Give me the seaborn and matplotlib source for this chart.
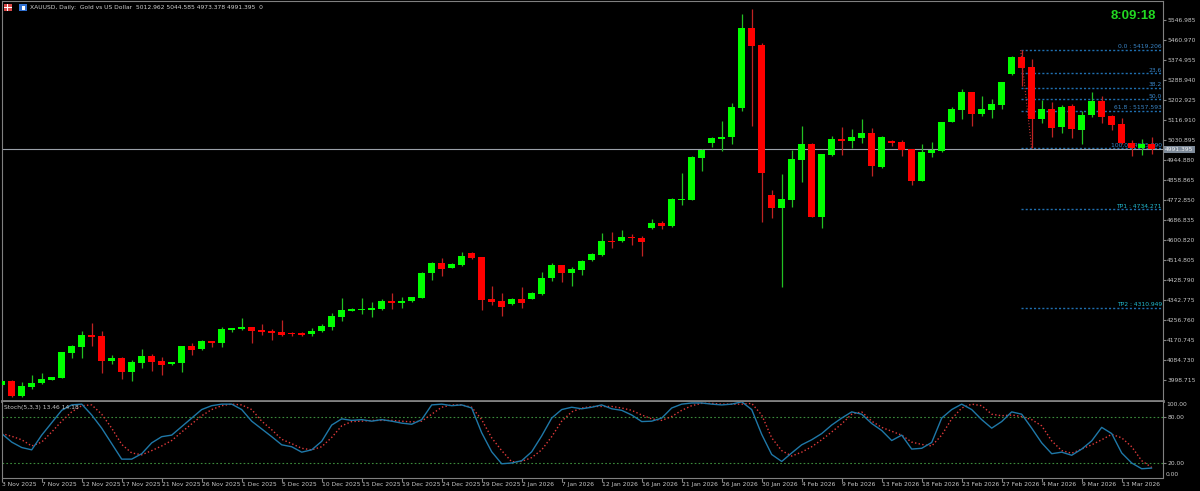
import numpy as np
import pandas as pd
import seaborn as sns
import matplotlib
matplotlib.use('Agg')
import matplotlib.pyplot as plt
from matplotlib.patches import Rectangle

# XAUUSD daily bars, 3 Nov 2025 .. 17 Mar 2026
opens = [3978.8, 3996.0, 3931.5, 3971.5, 3986.1, 4001.6, 4010.2, 4117.7, 4142.2, 4195.1,
         4189.5, 4082.0, 4094.9, 4036.0, 4074.7, 4103.5, 4082.0, 4070.4, 4072.1, 4146.5,
         4132.3, 4168.0, 4160.7, 4216.6, 4219.6, 4228.2, 4215.3, 4211.0, 4206.7, 4203.7,
         4202.4, 4198.1, 4211.0, 4229.5, 4272.5, 4298.3, 4301.3, 4302.6, 4305.6, 4340.0,
         4332.7, 4338.7, 4354.2, 4459.1, 4503.4, 4483.2, 4493.5, 4546.4, 4529.2, 4348.6,
         4340.0, 4328.4, 4348.6, 4349.9, 4370.1, 4437.6, 4494.8, 4461.7, 4473.3, 4516.3,
         4536.5, 4599.3, 4598.0, 4615.2, 4612.2, 4652.6, 4674.1, 4662.5, 4774.3, 4775.6,
         4956.2, 5018.1, 5037.9, 5043.9, 5171.2, 5513.9, 5440.8, 4795.8, 4741.2, 4774.3,
         4946.3, 5015.1, 4701.2, 4966.5, 5036.6, 5029.3, 5040.9, 5062.4, 4917.5, 5028.0,
         5022.4, 4992.3, 4857.3, 4976.4, 4986.3, 5109.7, 5162.6, 5237.4, 5145.4, 5162.6,
         5182.8, 5316.1, 5387.9, 5344.9, 5122.6, 5165.6, 5086.9, 5178.5, 5075.3, 5138.5,
         5200.0, 5135.5, 5101.1, 5018.1, 4996.6, 5012.962]
highs = [4000.3, 4000.3, 3991.7, 4021.8, 4029.1, 4013.2, 4122.0, 4150.8, 4211.0, 4246.7,
         4211.0, 4106.5, 4099.2, 4085.0, 4133.6, 4112.1, 4099.2, 4077.7, 4147.8, 4160.7,
         4173.6, 4168.0, 4228.2, 4223.9, 4267.0, 4228.2, 4242.4, 4219.6, 4258.3, 4206.7,
         4206.7, 4223.9, 4241.1, 4287.1, 4354.2, 4308.6, 4351.6, 4335.7, 4347.3, 4374.4,
         4355.9, 4357.2, 4463.4, 4509.0, 4524.9, 4502.1, 4550.7, 4549.4, 4529.2, 4404.5,
         4374.4, 4351.6, 4400.2, 4377.4, 4463.4, 4503.4, 4494.8, 4486.2, 4516.3, 4545.1,
         4631.1, 4636.7, 4645.3, 4626.8, 4619.5, 4691.3, 4684.0, 4781.6, 4890.4, 4962.2,
         4993.6, 5045.2, 5114.0, 5192.7, 5574.1, 5595.6, 5449.4, 4817.3, 4886.1, 4990.6,
         5093.8, 5018.1, 4973.4, 5049.5, 5088.2, 5079.6, 5122.6, 5083.9, 5049.5, 5032.3,
         5031.0, 4992.3, 5015.1, 5023.7, 5111.0, 5172.9, 5251.6, 5237.4, 5221.5, 5208.6,
         5283.0, 5394.8, 5419.2, 5379.3, 5204.3, 5195.7, 5181.5, 5185.8, 5158.3, 5237.4,
         5221.5, 5139.8, 5125.6, 5033.6, 5037.9, 5044.585]
lows = [3970.2, 3928.5, 3927.2, 3962.9, 3983.1, 4000.3, 4008.9, 4096.2, 4096.2, 4147.8,
        4031.7, 4070.4, 4005.9, 3997.3, 4053.2, 4040.3, 4023.1, 4063.5, 4036.0, 4109.1,
        4130.6, 4143.5, 4143.5, 4205.4, 4214.0, 4160.7, 4195.1, 4173.6, 4190.8, 4190.8,
        4189.5, 4189.5, 4206.7, 4215.3, 4255.3, 4297.0, 4284.1, 4271.2, 4301.3, 4305.6,
        4308.6, 4337.0, 4352.9, 4429.0, 4447.5, 4481.9, 4490.5, 4520.6, 4301.3, 4322.8,
        4275.5, 4324.1, 4309.9, 4348.6, 4365.8, 4426.0, 4421.7, 4404.5, 4450.5, 4513.3,
        4533.5, 4569.2, 4595.0, 4580.8, 4533.5, 4650.9, 4650.9, 4659.5, 4754.1, 4773.0,
        4897.7, 5003.5, 4986.3, 5015.1, 5155.7, 5092.5, 4681.0, 4698.2, 4401.5, 4745.5,
        4853.0, 4701.2, 4652.6, 4963.5, 4967.8, 4999.2, 5018.1, 4877.5, 4911.9, 5007.8,
        4963.5, 4838.8, 4856.0, 4959.2, 4982.0, 5108.4, 5121.3, 5093.8, 5135.5, 5128.2,
        5166.9, 5311.8, 5264.5, 4995.9, 5106.7, 5046.5, 5061.1, 5042.2, 5015.1, 5129.9,
        5105.4, 5075.3, 5016.4, 4964.8, 4969.1, 4973.378]
closes = [3996.0, 3932.8, 3974.5, 3988.7, 4003.3, 4011.9, 4120.7, 4145.2, 4193.8, 4186.5,
          4082.0, 4096.2, 4036.0, 4077.7, 4103.5, 4079.0, 4066.1, 4076.4, 4145.2, 4130.6,
          4166.7, 4160.7, 4219.6, 4223.9, 4228.2, 4212.3, 4208.0, 4203.7, 4195.1, 4199.4,
          4195.1, 4211.0, 4233.8, 4276.8, 4301.3, 4304.3, 4305.6, 4309.9, 4341.3, 4331.4,
          4341.3, 4357.2, 4461.7, 4504.7, 4477.6, 4497.8, 4534.8, 4526.2, 4344.3, 4337.0,
          4314.2, 4348.6, 4330.1, 4374.4, 4440.2, 4494.8, 4461.7, 4476.3, 4510.7, 4540.8,
          4599.3, 4595.0, 4615.2, 4610.9, 4595.0, 4674.1, 4663.8, 4777.3, 4778.6, 4959.2,
          4990.6, 5040.9, 5045.2, 5174.2, 5513.9, 5437.8, 4890.4, 4741.2, 4777.3, 4949.3,
          5013.8, 4701.2, 4970.8, 5037.9, 5028.0, 5043.9, 5061.1, 4919.2, 5043.1, 5019.4,
          4990.6, 4857.3, 4979.4, 4990.6, 5108.4, 5165.6, 5237.4, 5145.4, 5164.3, 5187.1,
          5279.5, 5390.5, 5343.2, 5122.6, 5165.6, 5085.2, 5172.9, 5078.3, 5139.8, 5200.0,
          5131.2, 5096.8, 5020.7, 4999.2, 5013.8, 4991.395]

# Stochastic(5,3,3) main and signal lines
stoch_k = [58, 47, 40, 37, 56, 72, 88, 95, 96, 82,
           65, 45, 25, 25, 32, 46, 54, 56, 67, 78,
           89, 94, 96, 96, 89, 74, 64, 54, 43.5, 41,
           34, 37, 48, 69, 77, 75, 76, 74, 76, 74,
           71.5, 70, 76, 95, 96, 94, 95, 91, 59, 34.5,
           19, 20, 23, 34.5, 55, 78, 89, 92, 90, 92,
           95, 90, 88, 82, 73.5, 74, 78, 91, 96, 97.5,
           97.5, 96, 95, 96, 99, 89, 57, 31, 22, 33,
           43.5, 50, 58, 69, 78, 86, 83, 71, 62, 49,
           56, 38, 39, 46.5, 78, 89, 96, 89, 76, 65,
           73.5, 86, 83, 65, 46, 32, 34, 30, 38, 48.6,
           66, 58, 33, 20, 12.6, 13.46]
stoch_d = [58, 54.5, 50, 42, 47, 60, 74, 86, 94, 95,
           83, 65, 44, 33, 30.6, 36, 42, 49, 60, 70.5,
           81, 89, 94, 96, 95, 89, 74, 63, 50.6, 45,
           39, 37, 41, 53, 68, 73.5, 74, 75, 75, 75,
           74, 73, 74, 83, 92, 95, 95, 92, 76, 52.5,
           36, 21.6, 22, 27, 37, 54, 74, 86, 91, 93,
           93, 93, 91, 88, 82, 77, 75, 80, 88, 94,
           97, 97, 96, 96, 96, 97, 82, 52.5, 36, 29,
           34, 41, 50, 60, 70.5, 83, 86, 74, 66, 61,
           56, 47, 44, 42, 56, 77, 91, 96, 94, 83,
           81, 82, 80, 76, 68, 48.6, 36, 32.6, 38, 43.5,
           50, 57, 52.5, 41, 23, 14.18]

date_labels = ["3 Nov 2025", "7 Nov 2025", "12 Nov 2025", "17 Nov 2025", "21 Nov 2025",
               "26 Nov 2025", "1 Dec 2025", "5 Dec 2025", "10 Dec 2025", "15 Dec 2025",
               "19 Dec 2025", "24 Dec 2025", "29 Dec 2025", "2 Jan 2026", "7 Jan 2026",
               "12 Jan 2026", "16 Jan 2026", "21 Jan 2026", "26 Jan 2026", "30 Jan 2026",
               "4 Feb 2026", "9 Feb 2026", "13 Feb 2026", "18 Feb 2026", "23 Feb 2026",
               "27 Feb 2026", "4 Mar 2026", "9 Mar 2026", "13 Mar 2026"]
price_ticks = [3998.715, 4084.730, 4170.745, 4256.760, 4342.775, 4428.790, 4514.805,
               4600.820, 4686.835, 4772.850, 4858.865, 4944.880, 5030.895, 5116.910,
               5202.925, 5288.940, 5374.955, 5460.970, 5546.985]

# Fibonacci object drawn from bar 102 high to bar 103 low
fib_prices = [5419.206, 5319.3, 5257.5, 5207.55, 5157.593, 4995.890]
fib_labels = ["0.0 : 5419.206", "23.6", "38.2", "50.0", "61.8 : 5157.593", "100.0 : 4995.890"]
tp_prices = [4734.271, 4310.949]
tp_labels = ["TP1 : 4734.271", "TP2 : 4310.949"]
bid = 4991.395

sns.set_theme(style='dark', rc={'axes.facecolor': 'black', 'figure.facecolor': 'black',
                                'axes.edgecolor': '#808080', 'axes.grid': False})
plt.rcParams['font.family'] = ['DejaVu Sans']

W, H = 1200, 491
LBL = '#c8c8c8'
FS = 4.3


def fx(px):
    return px / W


def fy(py):
    return 1 - py / H


df = pd.DataFrame({'open': opens, 'high': highs, 'low': lows, 'close': closes})
df['bar'] = np.arange(len(df))
df['bull'] = df['close'] > df['open']

fig = plt.figure(figsize=(12, 4.91), dpi=100, facecolor='black')
ax = fig.add_axes([fx(1.5), fy(401), fx(1163) - fx(1.5), fy(1) - fy(401)])
ax2 = fig.add_axes([fx(1.5), fy(477.5), fx(1163) - fx(1.5), fy(401.5) - fy(477.5)], sharex=ax)

x0, x1 = -0.02, 116.13

# fib / TP levels (under the candles)
for p, lab in zip(fib_prices, fib_labels):
    ax.hlines(p, 101.9, x1, colors='#1f6fb0', linestyles=(0, (1.5, 1.5)), lw=1, zorder=1)
    ax.text(x1 - 0.1, p + 3, lab, ha='right', va='bottom', fontsize=FS, color='#3a86c8', zorder=1)
for p, lab in zip(tp_prices, tp_labels):
    ax.hlines(p, 101.9, x1, colors='#1f6fb0', linestyles=(0, (1.5, 1.5)), lw=1, zorder=1)
    ax.text(x1 - 0.1, p + 3, lab, ha='right', va='bottom', fontsize=FS, color='#22bcd0', zorder=1)
ax.plot([101.9, 103], [fib_prices[0], fib_prices[-1]], color='#c03030', ls=':', lw=0.8, zorder=1)

# bid line
ax.axhline(bid, color='#9aa0a8', lw=0.8, zorder=1)

# candles
wick_col = np.where(df['bull'], '#22c022', '#c02222')
body_col = np.where(df['bull'], '#00ff00', '#ff0000')
ax.vlines(df['bar'], df['low'], df['high'], colors=wick_col, lw=0.9, zorder=2)
body_h = np.maximum((df['close'] - df['open']).abs(), 3.5)
ax.bar(df['bar'], body_h, bottom=np.minimum(df['open'], df['close']), width=0.66,
       color=body_col, linewidth=0, zorder=3)

ax.set_xlim(x0, x1)
ax.set_ylim(3909.7, 5630.0)
ax.yaxis.tick_right()
ax.set_yticks(price_ticks)
ax.set_yticklabels([f'{t:.3f}' for t in price_ticks])
ax.tick_params(axis='y', right=True, left=False, colors='#808080', labelcolor=LBL,
               labelsize=FS, length=2, width=0.8, pad=1)
ax.tick_params(axis='x', bottom=False, labelbottom=False)
for s in ax.spines.values():
    s.set_color('#808080')
    s.set_linewidth(0.8)
ax.spines['bottom'].set_linewidth(2)

# stochastic panel
ax2.axhline(80, color='#3c8c3c', ls=(0, (1.5, 2)), lw=0.8)
ax2.axhline(20, color='#3c8c3c', ls=(0, (1.5, 2)), lw=0.8)
sns.lineplot(x=df['bar'], y=stoch_d, ax=ax2, color='#e03a3a', lw=1, linestyle=':')
sns.lineplot(x=df['bar'], y=stoch_k, ax=ax2, color='#1f78a8', lw=1)
ax2.set_ylim(1.3, 99.4)
ax2.set_xlim(x0, x1)
ax2.yaxis.tick_right()
ax2.set_yticks([20, 80])
ax2.set_yticklabels(['20.00', '80.00'])
ax2.tick_params(axis='y', right=True, left=False, colors='#808080', labelcolor=LBL,
                labelsize=FS, length=2, width=0.8, pad=1)
ax2.set_xticks(np.arange(0, len(df), 4))
ax2.set_xticklabels(date_labels, ha='left')
ax2.tick_params(axis='x', bottom=True, colors='#808080', labelcolor=LBL, labelsize=FS,
                length=3, width=0.8, pad=0.5)
ax2.set_xlabel('')
ax2.set_ylabel('')
for s in ax2.spines.values():
    s.set_color('#808080')
    s.set_linewidth(0.8)
ax2.spines['top'].set_visible(False)

fig.text(fx(1166), fy(404), '100.00', fontsize=FS, color=LBL, va='center')
fig.text(fx(1166), fy(474), '0.00', fontsize=FS, color=LBL, va='center')
fig.text(fx(4), fy(407), 'Stoch(5,3,3) 13.46 14.18', fontsize=FS, color=LBL, va='center')

# bid price tag
fig.text(fx(1165), fy(149.5), f'{bid:.3f}', fontsize=FS, color='#f0f0f0', va='center',
         bbox=dict(facecolor='#7d8a99', edgecolor='none', pad=0.8))

# header
fig.add_artist(Rectangle((fx(4), fy(11)), 8 / W, 7 / H, transform=fig.transFigure,
                         facecolor='#d84848', edgecolor='none'))
fig.add_artist(Rectangle((fx(7), fy(11)), 1.2 / W, 7 / H, transform=fig.transFigure,
                         facecolor='white', edgecolor='none'))
fig.add_artist(Rectangle((fx(4), fy(7.8)), 8 / W, 1 / H, transform=fig.transFigure,
                         facecolor='white', edgecolor='none'))
fig.add_artist(Rectangle((fx(19), fy(11)), 8 / W, 7 / H, transform=fig.transFigure,
                         facecolor='#3070d0', edgecolor='none'))
fig.add_artist(Rectangle((fx(22), fy(10)), 3 / W, 4 / H, transform=fig.transFigure,
                         facecolor='white', edgecolor='none'))
fig.text(fx(30), fy(8), 'XAUUSD, Daily:  Gold vs US Dollar  5012.962 5044.585 4973.378 4991.395  0',
         fontsize=FS, color='#d0d0d0', va='center')
fig.text(fx(1156), fy(16), '8:09:18', ha='right', va='center', fontsize=9.5,
         fontweight='bold', color='#22d822', family=['Liberation Sans', 'DejaVu Sans'])

fig.savefig('out.png', dpi=100, facecolor='black')
